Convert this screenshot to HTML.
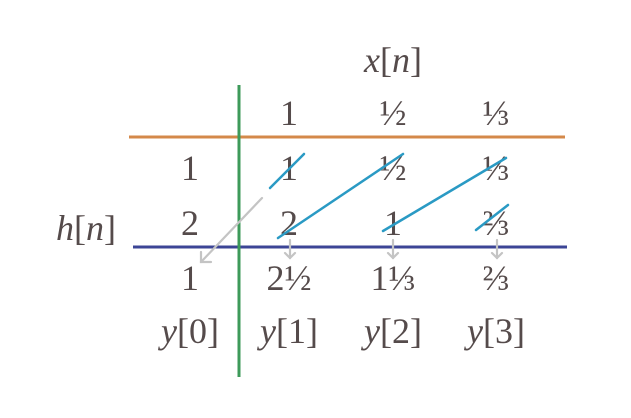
<!DOCTYPE html>
<html><head><style>
html,body{margin:0;padding:0;background:#fff;}
svg text{font-family:"Liberation Serif","DejaVu Serif",serif;fill:#554b4b;font-size:36px;text-anchor:middle;}
.i{font-style:italic;}
</style></head><body>
<svg width="631" height="413" viewBox="0 0 631 413" xmlns="http://www.w3.org/2000/svg">
<line x1="129" y1="137" x2="565" y2="137" stroke="#d4894a" stroke-width="3"/>
<line x1="133" y1="247" x2="567" y2="247" stroke="#3c4596" stroke-width="3"/>
<line x1="239" y1="85" x2="239" y2="377" stroke="#3d9a5a" stroke-width="3"/>
<text x="393" y="72"><tspan class="i">x</tspan>[<tspan class="i">n</tspan>]</text>
<text x="289" y="125">1</text><text x="393" y="125">½</text><text x="496" y="125">⅓</text>
<text x="190" y="180">1</text><text x="289" y="180">1</text><text x="393" y="180">½</text><text x="496" y="180">⅓</text>
<text x="190" y="235">2</text><text x="289" y="235">2</text><text x="393" y="235">1</text><text x="496" y="235">⅔</text>
<text x="86" y="240"><tspan class="i">h</tspan>[<tspan class="i">n</tspan>]</text>
<text x="190" y="290">1</text><text x="289" y="290">2½</text><text x="393" y="290">1⅓</text><text x="496" y="290">⅔</text>
<text x="190" y="343"><tspan class="i">y</tspan>[0]</text><text x="289" y="343"><tspan class="i">y</tspan>[1]</text><text x="393" y="343"><tspan class="i">y</tspan>[2]</text><text x="496" y="343"><tspan class="i">y</tspan>[3]</text>
<g stroke="#2a9ac4" stroke-width="2.5" stroke-linecap="round">
<line x1="270" y1="188" x2="304" y2="154"/>
<line x1="278" y1="238" x2="403" y2="154"/>
<line x1="383" y1="231" x2="506" y2="158"/>
<line x1="476" y1="230" x2="508" y2="205"/>
</g>
<g stroke="#c4c4c4" stroke-width="2.2" fill="none" stroke-linecap="round">
<line x1="262" y1="198" x2="201" y2="262"/>
<polyline points="201,252 201,262 211,262"/>
<line x1="290" y1="240" x2="290" y2="258"/><polyline points="285,253 290,258 295,253"/>
<line x1="393" y1="240" x2="393" y2="258"/><polyline points="388,253 393,258 398,253"/>
<line x1="497" y1="240" x2="497" y2="258"/><polyline points="492,253 497,258 502,253"/>
</g>
</svg>
</body></html>
